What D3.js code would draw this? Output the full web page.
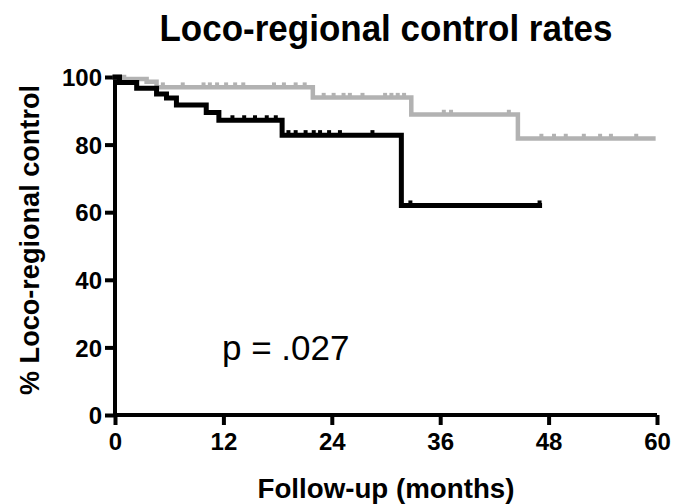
<!DOCTYPE html>
<html>
<head>
<meta charset="utf-8">
<script src="https://cdn.jsdelivr.net/npm/d3@7"></script>
<style>
  html, body { margin: 0; padding: 0; background: #fff; }
  svg { display: block; }
  text { font-family: "Liberation Sans", Arial, sans-serif; fill: #000; }
</style>
</head>
<body>
<svg id="chart" width="673" height="504"></svg>
<script>
// Kaplan–Meier loco-regional control, two groups
const xTicks = [0, 12, 24, 36, 48, 60];
const yTicks = [0, 20, 40, 60, 80, 100];

// Group 1 (black): event times (months) and control (%) after each step
const blackTimes = [0, 0.5, 2.4, 4.6, 5.7, 6.8, 10.1, 11.5, 18.5, 31.7];
const blackRates = [100, 98.4, 96.7, 95.0, 93.8, 91.7, 89.5, 87.2, 82.8, 62.0];
const blackEnd = 47;
const blackCensored = [13, 14.3, 15.5, 16.8, 17.8, 19.2, 20, 21.1, 22, 22.7, 23.7, 24.9, 28.5, 32.7, 47];

// Group 2 (grey)
const greyTimes = [0, 1.0, 3.5, 4.6, 21.9, 32.8, 44.6];
const greyRates = [100, 99.4, 98.6, 97.0, 93.9, 88.9, 81.8];
const greyEnd = 59.6;
const greyCensored = [5.3, 7.5, 9.8, 10.5, 11.3, 12.3, 13.3, 14.2, 17.6, 18.7, 20, 21, 23.1, 24.2, 25.3, 26, 27.4,
                      29.9, 30.6, 31.3, 32, 36.4, 37.2, 43.6, 47.2, 48.6, 49.9, 51.9, 53.7, 54.9, 57.7];

const svg = d3.select("#chart");
const plotLeft = 115, plotRight = 657, plotTop = 77, plotBottom = 415;

const x = d3.scaleLinear().domain([0, 60]).range([plotLeft, plotRight]);
const y = d3.scaleLinear().domain([0, 100]).range([plotBottom, plotTop]);

// Title
svg.append("text")
  .attr("x", 386).attr("y", 41)
  .attr("text-anchor", "middle")
  .attr("font-size", 36).attr("font-weight", "bold")
  .attr("textLength", 453).attr("lengthAdjust", "spacingAndGlyphs")
  .text("Loco-regional control rates");

// Axes
const axisW = 4;
const xAxis = svg.append("g")
  .attr("transform", `translate(0,${plotBottom})`)
  .call(d3.axisBottom(x).tickValues(xTicks).tickSize(10).tickPadding(6).tickSizeOuter(0));
const yAxis = svg.append("g")
  .attr("transform", `translate(${plotLeft},0)`)
  .call(d3.axisLeft(y).tickValues(yTicks).tickSize(10).tickPadding(3).tickSizeOuter(0));

[xAxis, yAxis].forEach(g => {
  g.select(".domain").attr("stroke", "#000").attr("stroke-width", axisW);
  g.selectAll(".tick line").attr("stroke", "#000").attr("stroke-width", axisW);
  g.selectAll(".tick text")
    .attr("font-family", "Liberation Sans, Arial, sans-serif")
    .attr("font-weight", "bold").attr("font-size", 24).attr("fill", "#000");
});
yAxis.selectAll(".tick text").attr("dy", "0.36em");
xAxis.selectAll(".tick text").attr("dy", "0.8em");
// extend axis lines slightly past the corner
xAxis.select(".domain").attr("d", `M${plotLeft - axisW / 2},0H${plotRight}`);
yAxis.select(".domain").attr("d", `M0,${plotBottom + axisW / 2}V${plotTop}`);

// Axis titles
svg.append("text")
  .attr("x", 386).attr("y", 498)
  .attr("text-anchor", "middle")
  .attr("font-size", 27).attr("font-weight", "bold")
  .attr("textLength", 257).attr("lengthAdjust", "spacingAndGlyphs")
  .text("Follow-up (months)");

svg.append("text")
  .attr("transform", "translate(39,240) rotate(-90)")
  .attr("text-anchor", "middle")
  .attr("font-size", 27).attr("font-weight", "bold")
  .attr("textLength", 310).attr("lengthAdjust", "spacingAndGlyphs")
  .text("% Loco-regional control");

// p value
svg.append("text")
  .attr("x", 222).attr("y", 360)
  .attr("font-size", 35)
  .text("p = .027");

// Survival step curves with censor ticks
function drawGroup(times, rates, end, censored, color, width) {
  const pts = times.map((t, i) => [t, rates[i]]);
  pts.push([end, rates[rates.length - 1]]);
  const line = d3.line()
    .x(d => x(d[0])).y(d => y(d[1]))
    .curve(d3.curveStepAfter);
  svg.append("path")
    .attr("d", line(pts))
    .attr("fill", "none")
    .attr("stroke", color)
    .attr("stroke-width", width)
    .attr("stroke-linejoin", "miter")
    .attr("stroke-linecap", "square");
  const rateAt = t => rates[Math.max(0, d3.bisectRight(times, t) - 1)];
  svg.append("g").selectAll("line")
    .data(censored)
    .join("line")
    .attr("x1", d => x(d)).attr("x2", d => x(d))
    .attr("y1", d => y(rateAt(d)))
    .attr("y2", d => y(rateAt(d)) - width / 2 - 2.5)
    .attr("stroke", color)
    .attr("stroke-width", 4);
}

drawGroup(greyTimes, greyRates, greyEnd, greyCensored, "#b2b2b2", 4.5);
drawGroup(blackTimes, blackRates, blackEnd, blackCensored, "#000", 5);
</script>
</body>
</html>
